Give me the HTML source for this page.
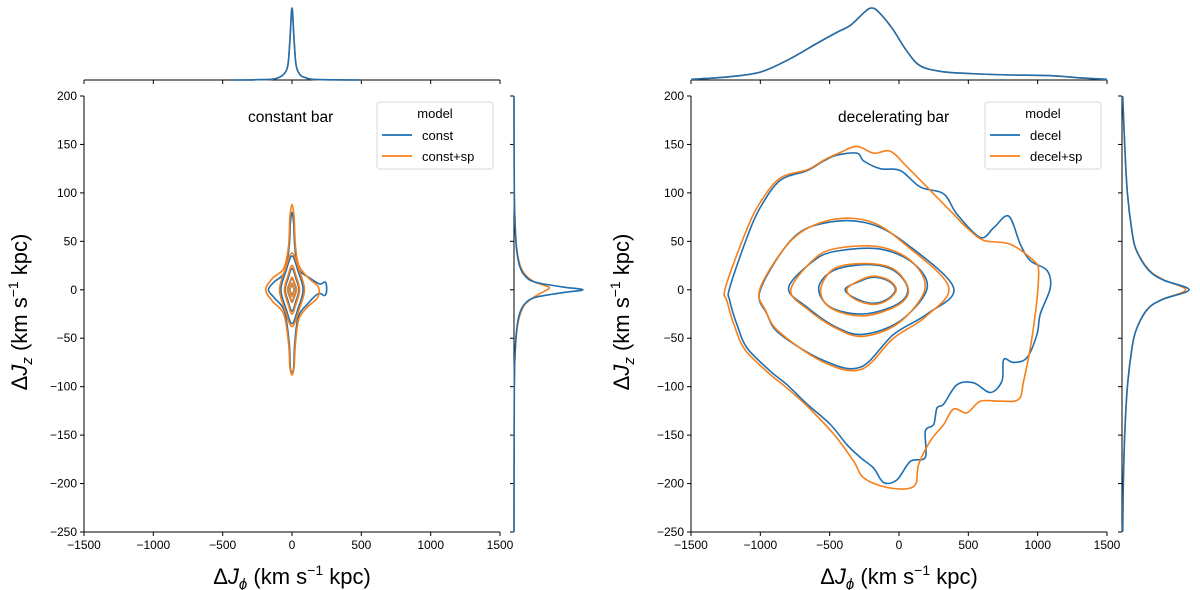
<!DOCTYPE html>
<html><head><meta charset="utf-8"><style>
body{margin:0;background:#fff;}
svg{display:block;font-family:"Liberation Sans","DejaVu Sans",sans-serif;}
</style></head><body>
<svg id="fig" width="1200" height="590" viewBox="0 0 1200 590"></svg>
<script>
const BLUE='#1f6fb0', ORANGE='#f77f1a';
const xTicks=[-1500,-1000,-500,0,500,1000,1500];
const yTicks=[200,150,100,50,0,-50,-100,-150,-200,-250];
// left panel contours (data coords: [Jphi, Jz])
const constOuter=[[0,80],[12,68],[20,45],[45,22],[130,12],[200,6],[240,8],[250,0],[235,-6],[190,-4],[110,-15],[45,-28],[20,-55],[12,-80],[0,-85],[-12,-80],[-20,-55],[-55,-22],[-130,-8],[-170,0],[-130,8],[-55,18],[-20,45],[-12,68]];
const constSpOuter=[[0,88],[15,75],[25,45],[50,25],[120,12],[190,3],[185,-8],[110,-18],[50,-30],[25,-55],[15,-80],[0,-88],[-15,-80],[-25,-55],[-60,-25],[-140,-12],[-190,0],[-140,12],[-60,22],[-25,45],[-15,75]];
const constLevels=[[80,35],[50,22],[30,12],[15,6]];
const constSpLevels=[[90,38],[55,25],[33,13],[17,7]];
// right panel contours
const decelOuter=[[-1221,2],[-1096,54],[-1000,85],[-856,113],[-663,123],[-543,133],[-447,139],[-303,141],[-255,133],[-135,125],[10,123],[154,106],[322,99],[418,78],[587,54],[683,64],[791,76],[875,47],[947,30],[1067,20],[1091,2],[1019,-25],[995,-46],[923,-70],[827,-75],[755,-72],[743,-94],[659,-106],[538,-96],[418,-98],[322,-118],[274,-122],[250,-139],[190,-146],[190,-173],[82,-177],[-14,-196],[-111,-199],[-183,-184],[-279,-173],[-375,-160],[-495,-139],[-663,-118],[-808,-98],[-928,-84],[-1096,-60],[-1168,-36],[-1221,-11]];
const decelSpOuter=[[-1252,2],[-1110,58],[-1010,88],[-860,115],[-660,124],[-540,134],[-420,142],[-303,148],[-183,141],[-63,143],[57,127],[250,99],[394,78],[490,64],[611,51],[803,47],[971,30],[1007,20],[995,-10],[983,-25],[947,-60],[899,-94],[863,-113],[731,-115],[587,-115],[490,-127],[394,-123],[322,-139],[226,-156],[142,-180],[106,-203],[-87,-204],[-255,-194],[-327,-177],[-471,-149],[-663,-120],[-820,-100],[-940,-86],[-1110,-62],[-1185,-38],[-1240,-12]];
const decel2=[[-1000,0],[-760,54],[-495,70],[-207,68],[57,47],[394,2],[202,-25],[-38,-46],[-279,-80],[-543,-73],[-856,-46],[-952,-25]];
const decelSp2=[[-1000,2],[-770,52],[-495,72],[-200,70],[60,45],[358,3],[190,-28],[-40,-50],[-270,-82],[-540,-75],[-860,-44],[-960,-22]];
const decel3=[[-796,2],[-615,30],[-447,40],[-135,42],[106,27],[202,1],[10,-32],[-255,-46],[-447,-39],[-663,-18]];
const decelSp3=[[-780,0],[-610,32],[-440,43],[-130,44],[100,28],[185,0],[0,-34],[-255,-48],[-450,-40],[-660,-20]];
const decel4=[[-579,2],[-471,20],[-231,26],[-38,20],[63,1],[-14,-15],[-255,-25],[-495,-18]];
const decelSp4=[[-565,0],[-465,22],[-231,27],[-35,21],[68,0],[-10,-16],[-255,-27],[-490,-19]];
const decel5=[[-387,1],[-279,9],[-183,13],[-75,9],[-26,0],[-87,-10],[-195,-14],[-327,-8]];
const decelSp5=[[-375,1],[-279,10],[-183,14],[-75,10],[-20,0],[-87,-11],[-195,-15],[-327,-9]];
// marginal densities
const topConstX=[-450,-300,-150,-100,-60,-30,-15,0,15,30,60,100,150,300,500];
const topConstD=[0,0.002,0.01,0.03,0.08,0.2,0.55,1,0.55,0.2,0.07,0.03,0.01,0.003,0];
const sideY=[200,100,60,40,25,15,8,3,0,-3,-8,-15,-25,-40,-60,-100,-250];
const sideConstD=[0,0.005,0.02,0.04,0.08,0.15,0.3,0.7,1,0.7,0.3,0.15,0.08,0.04,0.02,0.005,0];
const sideConstSpD=[0,0.005,0.02,0.045,0.09,0.17,0.3,0.5,0.48,0.4,0.28,0.16,0.09,0.045,0.02,0.005,0];
const topDecelX=[-1500,-1250,-1000,-800,-600,-450,-350,-250,-200,-150,-50,50,150,300,500,800,1100,1300,1500];
const topDecelD=[0.01,0.04,0.11,0.28,0.5,0.66,0.76,0.94,1,0.95,0.72,0.42,0.2,0.12,0.09,0.07,0.06,0.03,0.01];
const sideDecelY=[200,150,100,60,40,20,10,0,-10,-20,-40,-60,-100,-150,-200,-250];
const sideDecelD=[0.01,0.04,0.08,0.15,0.22,0.4,0.62,1,0.6,0.38,0.22,0.15,0.08,0.04,0.02,0.01];
const sideDecelSpD=[0.01,0.04,0.08,0.15,0.22,0.41,0.63,0.95,0.6,0.38,0.22,0.15,0.08,0.04,0.02,0.01];

const svg=document.getElementById('fig');
const NS='http://www.w3.org/2000/svg';
function el(tag,attrs,parent){const e=document.createElementNS(NS,tag);for(const k in attrs)e.setAttribute(k,attrs[k]);(parent||svg).appendChild(e);return e;}
function smooth(pts,closed){
  const n=pts.length;let d='M'+pts[0][0].toFixed(1)+','+pts[0][1].toFixed(1);
  const m=closed?n:n-1;
  for(let i=0;i<m;i++){
    const p0=pts[closed?(i-1+n)%n:Math.max(i-1,0)],p1=pts[i],p2=pts[(i+1)%n],p3=pts[closed?(i+2)%n:Math.min(i+2,n-1)];
    const c1=[p1[0]+(p2[0]-p0[0])/6,p1[1]+(p2[1]-p0[1])/6],c2=[p2[0]-(p3[0]-p1[0])/6,p2[1]-(p3[1]-p1[1])/6];
    d+='C'+c1[0].toFixed(1)+','+c1[1].toFixed(1)+' '+c2[0].toFixed(1)+','+c2[1].toFixed(1)+' '+p2[0].toFixed(1)+','+p2[1].toFixed(1);
  }
  return d+(closed?'Z':'');
}
function diamond(w,h){return [[-w,0],[-w*0.55,h*0.55],[0,h],[w*0.55,h*0.55],[w,0],[w*0.55,-h*0.55],[0,-h],[-w*0.55,-h*0.55]];}

function panel(o){
  const g=el('g',{});
  
  
  const X0=o.x0,X1=o.x1,Y0=96,Y1=532;
  const sx=v=>X0+(v+1500)/3000*(X1-X0);
  const sy=v=>Y1-(v+250)/450*(Y1-Y0);
  const ax=el('g',{},g);
  
  
  el('line',{x1:X0,y1:Y0,x2:X0,y2:Y1,stroke:'#000','stroke-width':1},ax);
  el('line',{x1:X0,y1:Y1,x2:X1,y2:Y1,stroke:'#000','stroke-width':1},ax);
  xTicks.forEach(t=>{
    el('line',{x1:sx(t),y1:Y1,x2:sx(t),y2:Y1+4,stroke:'#000'},ax);
    const tx=el('text',{x:sx(t),y:Y1+17,'font-size':12,'text-anchor':'middle',fill:'#000'},ax);
    tx.textContent=(t<0?'\u2212':'')+Math.abs(t);
    
    
    el('line',{x1:sx(t),y1:80,x2:sx(t),y2:84,stroke:'#000'},g);
  });
  yTicks.forEach(t=>{
    el('line',{x1:X0-4,y1:sy(t),x2:X0,y2:sy(t),stroke:'#000'},ax);
    const tx=el('text',{x:X0-7,y:sy(t)+4,'font-size':12,'text-anchor':'end',fill:'#000'},ax);
    tx.textContent=(t<0?'\u2212':'')+Math.abs(t);
    
    
    el('line',{x1:o.mx-4,y1:sy(t),x2:o.mx,y2:sy(t),stroke:'#000'},g);
  });
  const tm=el('g',{},g);
  
  
  el('line',{x1:X0,y1:80,x2:X1,y2:80,stroke:'#000'},tm);
  o.topSeries.forEach(s=>{
    const pts=s.x.map((v,i)=>[sx(v),80-s.d[i]*72]);
    const p=el('path',{d:smooth(pts,false),fill:'none',stroke:s.c,'stroke-width':1.6},tm);
    
    
  });
  const sm=el('g',{},g);
  
  
  el('line',{x1:o.mx,y1:Y0,x2:o.mx,y2:Y1,stroke:'#000'},sm);
  o.sideSeries.forEach(s=>{
    const pts=s.y.map((v,i)=>[o.mx+s.d[i]*o.sideW,sy(v)]);
    const p=el('path',{d:smooth(pts,false),fill:'none',stroke:s.c,'stroke-width':1.6},sm);
    
    
  });
  const cg=el('g',{},g);
  
  
  o.contours.forEach(c=>{
    const pts=c.pts.map(p=>[sx(p[0]),sy(p[1])]);
    const p=el('path',{d:smooth(pts,true),fill:'none',stroke:c.c,'stroke-width':1.6},cg);
    
    
  });
  const t=el('text',{x:o.tx,y:122,'font-size':15.5,fill:'#000'},g);
  t.textContent=o.title;
  
  
  const lg=el('g',{},g);
  
  
  el('rect',{x:o.lx,y:102,width:116,height:67,rx:3,fill:'#fff','fill-opacity':0.85,stroke:'#d8d8d8'},lg);
  const lt=el('text',{x:o.lx+58,y:118,'font-size':13,'text-anchor':'middle',fill:'#000'},lg);
  lt.textContent='model';
  o.legend.forEach((L,i)=>{
    const e=el('g',{},lg);
    
    
    el('line',{x1:o.lx+5,y1:135+i*21,x2:o.lx+35,y2:135+i*21,stroke:L.c,'stroke-width':1.8},e);
    const tt=el('text',{x:o.lx+45,y:140+i*21,'font-size':13,fill:'#000'},e);
    tt.textContent=L.t;
  });
  const xl=el('text',{x:(X0+X1)/2,y:584,'font-size':22,'text-anchor':'middle',fill:'#000'},g);
  xl.innerHTML='\u0394<tspan font-style="italic">J</tspan><tspan font-size="15" dy="5" font-style="italic">\u03d5</tspan><tspan dy="-5"> (km s</tspan><tspan font-size="14" dy="-9">\u22121</tspan><tspan dy="9"> kpc)</tspan>';
  
  
  const yl=el('text',{x:0,y:0,'font-size':22,'text-anchor':'middle',fill:'#000',transform:`translate(${o.ylx},312) rotate(-90)`},g);
  yl.innerHTML='\u0394<tspan font-style="italic">J</tspan><tspan font-size="15" dy="5" font-style="italic">z</tspan><tspan dy="-5"> (km s</tspan><tspan font-size="14" dy="-9">\u22121</tspan><tspan dy="9"> kpc)</tspan>';
  
  
}

const constC=[{pts:constOuter,c:BLUE},{pts:constSpOuter,c:ORANGE}];
constLevels.forEach(l=>constC.push({pts:diamond(l[0],l[1]),c:BLUE}));
constSpLevels.forEach(l=>constC.push({pts:diamond(l[0],l[1]),c:ORANGE}));
panel({name:'left-panel',x0:84,x1:500,mx:514,sideW:69,tx:248,lx:377,ylx:27,title:'constant bar',
  topSeries:[{x:topConstX,d:topConstD,c:ORANGE},{x:topConstX,d:topConstD,c:BLUE}],
  sideSeries:[{y:sideY,d:sideConstSpD,c:ORANGE},{y:sideY,d:sideConstD,c:BLUE}],
  contours:constC,legend:[{t:'const',c:BLUE},{t:'const+sp',c:ORANGE}]});
panel({name:'right-panel',x0:691,x1:1107,mx:1122,sideW:67,tx:838,lx:985,ylx:629,title:'decelerating bar',
  topSeries:[{x:topDecelX,d:topDecelD,c:ORANGE},{x:topDecelX,d:topDecelD,c:BLUE}],
  sideSeries:[{y:sideDecelY,d:sideDecelSpD,c:ORANGE},{y:sideDecelY,d:sideDecelD,c:BLUE}],
  contours:[{pts:decelOuter,c:BLUE},{pts:decelSpOuter,c:ORANGE},{pts:decel2,c:BLUE},{pts:decelSp2,c:ORANGE},{pts:decel3,c:BLUE},{pts:decelSp3,c:ORANGE},{pts:decel4,c:BLUE},{pts:decelSp4,c:ORANGE},{pts:decel5,c:BLUE},{pts:decelSp5,c:ORANGE}],
  legend:[{t:'decel',c:BLUE},{t:'decel+sp',c:ORANGE}]});
</script>
</body></html>
